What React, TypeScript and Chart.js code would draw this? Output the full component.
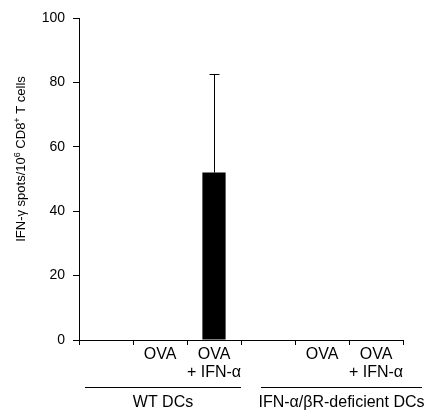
import React, { useEffect, useRef } from "react";
import { Chart, registerables } from "chart.js";

Chart.register(...registerables);

const categories: string[][] = [[""], ["OVA"], ["OVA", "+ IFN-α"], [""], ["OVA"], ["OVA", "+ IFN-α"]];
const values: (number | null)[] = [null, null, 52, null, null, null];
const errors: number[] = [0, 0, 30.5, 0, 0, 0];
const groupLabels: string[] = ["WT DCs", "IFN-α/βR-deficient DCs"];
const groupStart: number[] = [0, 3];
const groupEnd: number[] = [2, 5];
const yTicks: number[] = [0, 20, 40, 60, 80, 100];

const FONT = 'Arial, "Liberation Sans", Helvetica, sans-serif';

const errorBarPlugin = {
  id: "errorBars",
  afterDatasetsDraw(chart: any) {
    const meta = chart.getDatasetMeta(0);
    const y = chart.scales.y;
    const ctx = chart.ctx;
    ctx.save();
    ctx.strokeStyle = "#000";
    ctx.lineWidth = 1;
    values.forEach((v, i) => {
      if (v == null || !errors[i]) return;
      const el = meta.data[i];
      const x = Math.round(el.x) + 0.5;
      const yb = y.getPixelForValue(v);
      const yt = Math.round(y.getPixelForValue(v + errors[i])) + 0.5;
      ctx.beginPath();
      ctx.moveTo(x, yb);
      ctx.lineTo(x, yt);
      ctx.moveTo(x - 5, yt);
      ctx.lineTo(x + 5, yt);
      ctx.stroke();
    });
    ctx.restore();
  },
};

const annotationsPlugin = {
  id: "groupsAndTitle",
  afterDraw(chart: any) {
    const ctx = chart.ctx;
    const xs = chart.scales.x;
    const area = chart.chartArea;
    const half = (xs.getPixelForValue(1) - xs.getPixelForValue(0)) / 2;
    const insetL = [6, 20];
    const insetR = [0, 19];
    ctx.save();
    ctx.strokeStyle = "#000";
    ctx.fillStyle = "#000";
    ctx.lineWidth = 1;
    const lineY = Math.round(area.bottom + 47) + 0.5;
    groupLabels.forEach((g, i) => {
      const x0 = xs.getPixelForValue(groupStart[i]) - half + insetL[i];
      const x1 = xs.getPixelForValue(groupEnd[i]) + half + insetR[i];
      ctx.beginPath();
      ctx.moveTo(x0, lineY);
      ctx.lineTo(x1, lineY);
      ctx.stroke();
      ctx.font = `16px ${FONT}`;
      ctx.textAlign = "center";
      ctx.textBaseline = "alphabetic";
      ctx.fillText(g, (x0 + x1) / 2, area.bottom + 67);
    });

    // y-axis title with superscripts
    const parts: [string, boolean][] = [
      ["IFN-γ spots/10", false],
      ["6", true],
      [" CD8", false],
      ["+", true],
      [" T cells", false],
    ];
    const big = `13px ${FONT}`;
    const small = `9px ${FONT}`;
    let total = 0;
    parts.forEach(([t, sup]) => {
      ctx.font = sup ? small : big;
      total += ctx.measureText(t).width;
    });
    ctx.translate(25, 159);
    ctx.rotate(-Math.PI / 2);
    ctx.textAlign = "left";
    ctx.textBaseline = "alphabetic";
    let cx = -total / 2;
    parts.forEach(([t, sup]) => {
      ctx.font = sup ? small : big;
      ctx.fillText(t, cx, sup ? -5 : 0);
      cx += ctx.measureText(t).width;
    });
    ctx.restore();
  },
};

export default function App() {
  const ref = useRef<HTMLCanvasElement>(null);
  useEffect(() => {
    if (!ref.current) return;
    const chart = new Chart(ref.current, {
      type: "bar",
      data: {
        labels: categories,
        datasets: [
          {
            data: values,
            backgroundColor: "#000",
            borderColor: "#000",
            borderWidth: 0,
            barPercentage: 0.43,
            categoryPercentage: 1,
          },
        ],
      },
      options: {
        animation: false,
        responsive: false,
        maintainAspectRatio: false,
        layout: { padding: { top: 18, right: 29, left: 0, bottom: 0 } },
        plugins: { legend: { display: false }, tooltip: { enabled: false } },
        scales: {
          x: {
            afterFit: (s: any) => {
              s.height = 70;
            },
            grid: {
              display: true,
              drawOnChartArea: false,
              drawTicks: true,
              tickLength: 5,
              color: "#000",
              offset: true,
            },
            border: { display: true, color: "#000", width: 1 },
            ticks: {
              color: "#000",
              font: { family: FONT, size: 16, lineHeight: 1.15 },
              padding: 0,
              maxRotation: 0,
              autoSkip: false,
            },
          },
          y: {
            min: 0,
            max: 100,
            afterFit: (s: any) => {
              s.width = 79;
            },
            afterBuildTicks: (s: any) => {
              s.ticks = yTicks.map((v) => ({ value: v }));
            },
            grid: {
              display: true,
              drawOnChartArea: false,
              drawTicks: true,
              tickLength: 6,
              color: "#000",
            },
            border: { display: true, color: "#000", width: 1 },
            ticks: {
              color: "#000",
              font: { family: FONT, size: 14 },
              padding: 8,
            },
          },
        },
      },
      plugins: [errorBarPlugin, annotationsPlugin],
    });
    return () => chart.destroy();
  }, []);
  return (
    <div style={{ position: "absolute", left: 0, top: 0, width: 432, height: 410, background: "#fff" }}>
      <canvas ref={ref} width={432} height={410} style={{ width: 432, height: 410 }} />
    </div>
  );
}
